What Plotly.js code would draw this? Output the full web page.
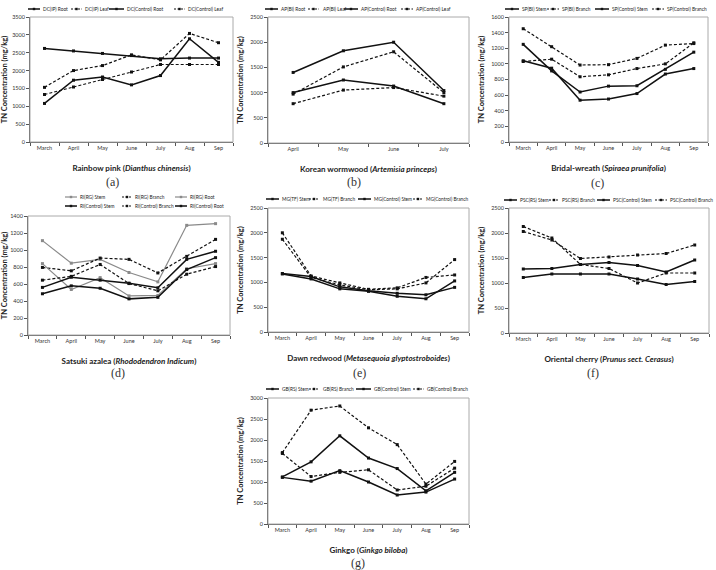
<!DOCTYPE html>
<html><head><meta charset="utf-8">
<script src="https://cdn.plot.ly/plotly-3.0.1.min.js"></script>
<style>html,body{margin:0;padding:0;background:#fff}#chart{width:716px;height:570px}</style>
</head><body><div id="chart"></div>
<script>
// ---------- data ----------
const months7 = ['March','April','May','June','July','Aug','Sep'];
const months4 = ['April','May','June','July'];

// (a) Rainbow pink
const dcIpRoot   = [1080,1730,1820,1600,1860,2890,2230];
const dcIpLeaf   = [1530,2000,2140,2440,2300,3040,2780];
const dcCtrlRoot = [2620,2550,2480,2420,2330,2350,2350];
const dcCtrlLeaf = [1330,1540,1750,1960,2170,2170,2170];
// (b) Korean wormwood
const apBiRoot   = [1400,1830,2000,1040];
const apBiLeaf   = [970,1510,1810,1000];
const apCtrlRoot = [1000,1250,1130,780];
const apCtrlLeaf = [780,1050,1100,930];
// (c) Bridal-wreath
const spBiStem     = [1250,910,640,715,720,930,1150];
const spBiBranch   = [1450,1220,985,990,1070,1240,1260];
const spCtrlStem   = [1040,945,535,550,620,870,940];
const spCtrlBranch = [1030,1060,835,860,940,1000,1270];
// (d) Satsuki azalea
const riRgStem     = [1110,845,890,735,625,1290,1310];
const riRgBranch   = [795,755,905,890,730,925,1125];
const riRgRoot     = [840,535,675,460,465,780,840];
const riCtrlStem   = [560,680,645,610,555,890,985];
const riCtrlBranch = [645,690,830,605,520,715,805];
const riCtrlRoot   = [485,578,550,425,443,770,910];
// (e) Dawn redwood
const mgTfStem     = [1180,1120,910,830,780,750,900];
const mgTfBranch   = [2000,1130,990,860,890,1100,1150];
const mgCtrlStem   = [1170,1070,870,820,720,670,1030];
const mgCtrlBranch = [1870,1100,950,850,870,990,1460];
// (f) Oriental cherry
const pscRsStem     = [1280,1290,1370,1410,1350,1220,1460];
const pscRsBranch   = [2030,1860,1490,1520,1560,1590,1760];
const pscCtrlStem   = [1110,1180,1180,1180,1080,970,1030];
const pscCtrlBranch = [2130,1900,1370,1290,1000,1200,1200];
// (g) Ginkgo
const gbRsStem     = [1120,1480,2100,1570,1320,790,1230];
const gbRsBranch   = [1700,2710,2810,2290,1890,950,1490];
const gbCtrlStem   = [1110,1020,1270,1000,690,760,1070];
const gbCtrlBranch = [1680,1130,1230,1290,810,900,1330];

// ---------- styling ----------
const W = 716, H = 570;
const FONT = 'Lato, "Open Sans", sans-serif';
const px = v => v / W;
const py = v => 1 - v / H;
const SOLID = {color:'#111', width:1.5, dash:'solid'};
const DASH  = {color:'#111', width:1.2, dash:'3px,2px'};
const GRAY  = {color:'#8a8a8a', width:1.2, dash:'solid'};

const panels = [
 {x0:30,x1:233,y0:17,y1:142,cats:months7,ymax:3500,dtick:500,
  title:'<b>Rainbow pink (<i>Dianthus chinensis</i>)</b>', label:'(a)', lx:112, ly:182,
  series:[['DC(IP) Root',dcIpRoot,SOLID],['DC(IP) Leaf',dcIpLeaf,DASH],['DC(Control) Root',dcCtrlRoot,SOLID],['DC(Control) Leaf',dcCtrlLeaf,DASH]],
  leg:[[9,28,40,41],[9,71,82,83],[9,109,124,125],[9,174,185,186]]},
 {x0:268,x1:469,y0:17,y1:143,cats:months4,ymax:2500,dtick:500,
  title:'<b>Korean wormwood (<i>Artemisia princeps</i>)</b>', label:'(b)', lx:354, ly:182,
  series:[['AP(BI) Root',apBiRoot,SOLID],['AP(BI) Leaf',apBiLeaf,DASH],['AP(Control) Root',apCtrlRoot,SOLID],['AP(Control) Leaf',apCtrlLeaf,DASH]],
  leg:[[9,265,278,279],[9,308,319,321],[9,344,358,359],[9,401,413,414]]},
 {x0:509,x1:708,y0:17,y1:142,cats:months7,ymax:1600,dtick:200,
  title:'<b>Bridal-wreath (<i>Spiraea prunifolia</i>)</b>', label:'(c)', lx:597, ly:183,
  series:[['SP(BI) Stem',spBiStem,SOLID],['SP(BI) Branch',spBiBranch,DASH],['SP(Control) Stem',spCtrlStem,SOLID],['SP(Control) Branch',spCtrlBranch,DASH]],
  leg:[[9,505,519,520],[9,547,559,560],[9,595,609,610],[9,652,664,665]]},
 {x0:28,x1:230,y0:216,y1:335,cats:months7,ymax:1400,dtick:200,
  title:'<b>Satsuki azalea (<i>Rhododendron Indicum</i>)</b>', label:'(d)', lx:118, ly:373,
  series:[['RI(RG) Stem',riRgStem,GRAY],['RI(RG) Branch',riRgBranch,DASH],['RI(RG) Root',riRgRoot,GRAY],
          ['RI(Control) Stem',riCtrlStem,SOLID],['RI(Control) Branch',riCtrlBranch,DASH],['RI(Control) Root',riCtrlRoot,SOLID]],
  leg:[[197,65,77,78],[197,122,132,133],[197,175,187,188],[206,65,77,78],[206,122,132,133],[206,175,187,188]]},
 {x0:268,x1:469,y0:208,y1:332,cats:months7,ymax:2500,dtick:500,
  title:'<b>Dawn redwood (<i>Metasequoia glyptostroboides</i>)</b>', label:'(e)', lx:359, ly:373,
  series:[['MG(TF) Stem',mgTfStem,SOLID],['MG(TF) Branch',mgTfBranch,DASH],['MG(Control) Stem',mgCtrlStem,SOLID],['MG(Control) Branch',mgCtrlBranch,DASH]],
  leg:[[199,266,279,280],[199,309,319,321],[199,358,371,372],[199,413,423,424]]},
 {x0:509,x1:709,y0:208,y1:333,cats:months7,ymax:2500,dtick:500,
  title:'<b>Oriental cherry (<i>Prunus sect. Cerasus</i>)</b>', label:'(f)', lx:593, ly:373,
  series:[['PSC(RS) Stem',pscRsStem,SOLID],['PSC(RS) Branch',pscRsBranch,DASH],['PSC(Control) Stem',pscCtrlStem,SOLID],['PSC(Control) Branch',pscCtrlBranch,DASH]],
  leg:[[200,504,517,518],[200,549,559,560],[200,597,610,611],[200,655,667,668]]},
 {x0:268,x1:469,y0:398,y1:524,cats:months7,ymax:3000,dtick:500,
  title:'<b>Ginkgo (<i>Ginkgo biloba</i>)</b>', label:'(g)', lx:358, ly:563,
  series:[['GB(RS) Stem',gbRsStem,SOLID],['GB(RS) Branch',gbRsBranch,DASH],['GB(Control) Stem',gbCtrlStem,SOLID],['GB(Control) Branch',gbCtrlBranch,DASH]],
  leg:[[389,266,279,280],[389,309,319,321],[389,356,371,372],[389,413,424,425]]}
];

const data = [];
const layout = {
  width:W, height:H, margin:{l:0,r:0,t:0,b:0},
  paper_bgcolor:'#fff', plot_bgcolor:'#fff', showlegend:false,
  font:{family:FONT, color:'#222'},
  shapes:[], annotations:[]
};

panels.forEach((p, i) => {
  const s = i === 0 ? '' : String(i + 1);
  layout['xaxis' + s] = {
    domain:[px(p.x0), px(p.x1)], anchor:'y' + s, type:'category',
    categoryarray:p.cats, range:[-0.5, p.cats.length - 0.5],
    showline:true, linecolor:'#555', linewidth:1, ticks:'outside', tickson:'boundaries',
    ticklen:3, tickcolor:'#555', tickfont:{size:5.5, color:'#333', family:FONT},
    showgrid:false, zeroline:false, fixedrange:true,
    title:{text:p.title, font:{size:8, color:'#222', family:FONT}, standoff:15}
  };
  layout['yaxis' + s] = {
    domain:[py(p.y1), py(p.y0)], anchor:'x' + s, range:[0, p.ymax], dtick:p.dtick,
    showline:true, linecolor:'#555', linewidth:1, ticks:'outside', ticklen:3, tickcolor:'#555',
    tickfont:{size:5.5, color:'#333', family:FONT}, showgrid:false, zeroline:false, fixedrange:true,
    title:{text:'<b>TN Concentration (mg/kg)</b>', font:{size:7.5, color:'#222', family:FONT}, standoff:5}
  };
  // plot-area frame
  layout.shapes.push({type:'rect', xref:'x' + s + ' domain', yref:'y' + s + ' domain',
    x0:0, x1:1, y0:0, y1:1, line:{color:'#aaa', width:1}});
  p.series.forEach((ser, k) => {
    const st = ser[2];
    data.push({
      type:'scatter', mode:'lines+markers', name:ser[0], x:p.cats, y:ser[1],
      xaxis:'x' + s, yaxis:'y' + s,
      line:{color:st.color, width:st.width, dash:st.dash},
      marker:{symbol:'square', size:3, color:st.color}
    });
    // manual legend entry
    const lg = p.leg[k];
    const yy = py(lg[0]);
    layout.shapes.push({type:'line', xref:'paper', yref:'paper', x0:px(lg[1]), x1:px(lg[2]), y0:yy, y1:yy,
      line:{color:st.color, width:st.width, dash:st.dash === 'solid' ? 'solid' : '2px,1.5px'}});
    const mx = (lg[1] + lg[2]) / 2;
    layout.shapes.push({type:'rect', xref:'paper', yref:'paper', x0:px(mx - 1.2), x1:px(mx + 1.2),
      y0:py(lg[0] + 1.2), y1:py(lg[0] - 1.2), line:{width:0}, fillcolor:st.color});
    layout.annotations.push({xref:'paper', yref:'paper', x:px(lg[3]), y:yy, xanchor:'left', yanchor:'middle',
      text:ser[0], showarrow:false, font:{size:4.8, color:'#222', family:FONT}});
  });
  layout.annotations.push({xref:'paper', yref:'paper', x:px(p.lx), y:py(p.ly), xanchor:'center', yanchor:'middle',
    text:p.label, showarrow:false, font:{size:12, color:'#333', family:'"Liberation Serif", "DejaVu Serif", serif'}});
});

Plotly.newPlot('chart', data, layout, {staticPlot:true, displayModeBar:false});
</script></body></html>
